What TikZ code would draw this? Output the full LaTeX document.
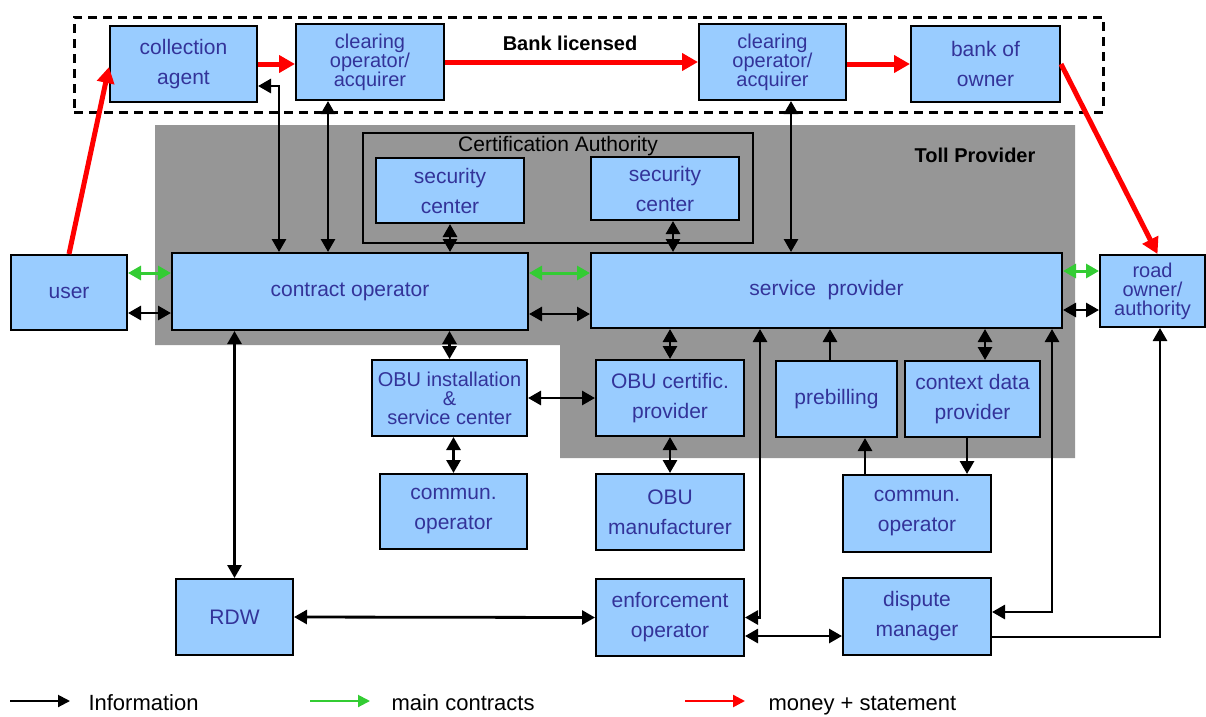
\documentclass[tikz,border=0pt]{standalone}
\usepackage{fontspec}
\setmainfont{Liberation Sans}
\usetikzlibrary{arrows.meta}
\definecolor{boxblue}{RGB}{153,204,255}
\definecolor{boxtext}{RGB}{51,51,153}
\definecolor{tollgray}{RGB}{150,150,150}
\definecolor{contractgreen}{RGB}{51,204,51}

\begin{document}
\begin{tikzpicture}[x=1pt, y=-1pt,
  role/.style = {draw, line width=2pt, fill=boxblue, text=boxtext, align=center,
    inner sep=1pt, font=\fontsize{20}{19}\selectfont},
  roleloose/.style = {role, font=\fontsize{21}{30}\selectfont},
  dims/.style 2 args = {minimum width=#1pt, minimum height=#2pt},
  info/.style = {line width=2.8pt, -{Triangle[length=13pt,width=14pt]}},
  infoboth/.style = {line width=2.8pt, {Triangle[length=13pt,width=14pt]}-{Triangle[length=13pt,width=14pt]}},
  mainboth/.style = {draw=contractgreen, line width=3pt,
    {Triangle[length=13pt,width=14pt]}-{Triangle[length=13pt,width=14pt]}},
  money/.style = {draw=red, line width=5pt, -{Triangle[length=16pt,width=17pt]}},
  legendtext/.style = {font=\fontsize{22}{22}\selectfont, anchor=base west}]
  \useasboundingbox (0,0) rectangle (1206,716);

  \fill[tollgray] (155,125) -- (1075,125) -- (1075,458) -- (560,458)
    -- (560,345) -- (155,345) -- cycle;
  \node[font=\bfseries\fontsize{20}{20}\selectfont] (toll) at (975,155) {Toll Provider};
  \node[draw, line width=2pt, dims={390}{110}] (ca) at (558,188) {};
  \node[anchor=north, font=\fontsize{21}{21}\selectfont] (catitle) at ([yshift=-1pt]ca.north) {Certification Authority};
  \node[draw, line width=3pt, dash pattern=on 9pt off 6pt, dims={1029}{95}] (bankzone) at (588.5,64.5) {};
  \node[font=\bfseries\fontsize{20}{20}\selectfont] (banklic) at (570,43) {Bank licensed};

  \node[roleloose, dims={147}{76}] (agent) at (183.5,64) {collection\\agent};
  \node[role, dims={148}{76}] (clear1) at (370,62) {clearing\\operator/\\acquirer};
  \node[role, dims={147}{76}] (clear2) at (772.5,62) {clearing\\operator/\\acquirer};
  \node[roleloose, dims={149}{76}] (bank) at (985.5,64) {bank of\\owner};
  \node[roleloose, dims={148}{65}] (sec1) at (450,190.5) {security\\center};
  \node[roleloose, dims={148}{63}] (sec2) at (665,188.5) {security\\center};
  \node[role, font=\fontsize{21}{21}\selectfont, dims={116}{75}] (user) at (69,292.5) {user};
  \node[role, font=\fontsize{21}{21}\selectfont, dims={356}{77}] (contract) at (350,291.5) {contract operator};
  \node[role, font=\fontsize{21}{21}\selectfont, dims={471}{75}] (service) at (826.5,290.5) {service~~provider};
  \node[role, dims={105}{72}] (road) at (1152.5,291) {road\\owner/\\authority};
  \node[role, dims={155}{76}] (install) at (449.5,398) {OBU installation\\\&\\service center};
  \node[roleloose, dims={148}{76}] (certific) at (670,398) {OBU certific.\\provider};
  \node[role, font=\fontsize{21}{21}\selectfont, dims={121}{76}] (prebill) at (836.5,399) {prebilling};
  \node[roleloose, dims={135}{76}] (context) at (972.5,399) {context data\\provider};
  \node[roleloose, dims={147}{75}] (comm1) at (453.5,511.5) {commun.\\operator};
  \node[roleloose, dims={148}{76}] (manuf) at (670,512) {OBU\\manufacturer};
  \node[roleloose, dims={148}{77}] (comm2) at (917,513.5) {commun.\\operator};
  \node[role, font=\fontsize{21}{21}\selectfont, dims={117}{76}] (rdw) at (234.5,617) {RDW};
  \node[roleloose, dims={148}{77}] (enforce) at (670,617.5) {enforcement\\operator};
  \node[roleloose, dims={148}{77}] (dispute) at (917,616.5) {dispute\\manager};

  \draw[money] (user.north) -- ([yshift=-3pt]agent.west);
  \draw[money] (agent.east) -- (agent.east -| clear1.west);
  \draw[money] (clear1.east) -- (clear2.west);
  \draw[money] (clear2.east |- bank.west) -- (bank.west);
  \draw[money] (bank.east) -- ([xshift=5pt]road.north);

  \draw[mainboth] (user.east |- 0,273) -- (contract.west |- 0,273);
  \draw[mainboth] (contract.east |- 0,273) -- (service.west |- 0,273);
  \draw[mainboth] (service.east |- 0,271) -- (road.west |- 0,271);

  \draw[infoboth] (agent.east |- 0,86) -| (contract.north -| 279,0);
  \draw[infoboth] (clear1.south -| 328,0) -- (contract.north -| 328,0);
  \draw[infoboth] (clear2.south -| 791,0) -- (service.north -| 791,0);
  \draw[infoboth] (sec1.south) -- (contract.north -| sec1.south);
  \draw[infoboth] (sec2.south -| 673,0) -- (service.north -| 673,0);
  \draw[infoboth] (user.east |- 0,313) -- (contract.west |- 0,313);
  \draw[infoboth] (contract.east |- 0,314) -- (service.west |- 0,314);
  \draw[infoboth] (service.east |- 0,310) -- (road.west |- 0,310);
  \draw[infoboth] (contract.south -| install.north) -- (install.north);
  \draw[infoboth] (contract.south -| rdw.north) -- (rdw.north);
  \draw[infoboth] (install.east) -- (certific.west);
  \draw[infoboth] (install.south -| comm1.north) -- (comm1.north);
  \draw[infoboth] (service.south -| certific.north) -- (certific.north);
  \draw[infoboth] (certific.south) -- (manuf.north);
  \draw[infoboth] (service.south -| 760,0) |- (enforce.east);
  \draw[info] (prebill.north -| 830,0) -- (service.south -| 830,0);
  \draw[info] (comm2.north -| 865,0) -- (prebill.south -| 865,0);
  \draw[info] (context.south -| 967,0) -- (comm2.north -| 967,0);
  \draw[infoboth] (service.south -| 985,0) -- (context.north -| 985,0);
  \draw[infoboth] (service.south -| 1052,0) |- (dispute.east |- 0,612);
  \draw[info] (dispute.east |- 0,637) -| (road.south -| 1160,0);
  \draw[infoboth] (rdw.east) -- (enforce.west);
  \draw[infoboth] (enforce.east |- 0,636) -- (dispute.west |- 0,636);

  \coordinate (infoA) at (10,701);
  \coordinate (infoB) at (70,701);
  \coordinate (mainA) at (310,701);
  \coordinate (mainB) at (370,701);
  \coordinate (moneyA) at (685,701);
  \coordinate (moneyB) at (745,701);
  \draw[line width=2pt, -{Triangle[length=12pt,width=12pt]}] (infoA) -- (infoB);
  \draw[draw=contractgreen, line width=2pt, -{Triangle[length=12pt,width=12pt]}] (mainA) -- (mainB);
  \draw[draw=red, line width=2.5pt, -{Triangle[length=12pt,width=12pt]}] (moneyA) -- (moneyB);
  \node[legendtext] (infotext) at (85,710) {Information};
  \node[legendtext] (maintext) at (388,710) {main contracts};
  \node[legendtext] (moneytext) at (765,710) {money + statement};
\end{tikzpicture}
\end{document}
